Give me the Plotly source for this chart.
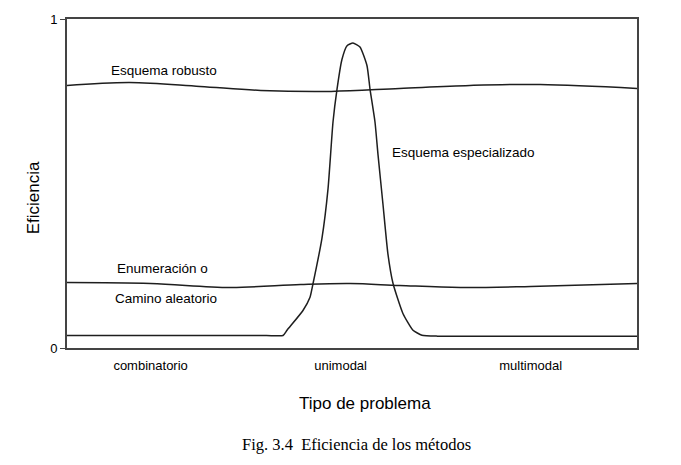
import plotly.graph_objects as go

# Data (x in category units: 0..3)
categories = ["combinatorio", "unimodal", "multimodal"]
cat_pos = [0.44, 1.44, 2.44]

robust_x = [0.0, 0.33, 0.70, 1.02, 1.39, 1.75, 2.12, 2.49, 3.0]
robust_y = [0.798, 0.807, 0.795, 0.783, 0.780, 0.789, 0.798, 0.801, 0.789]

enum_x = [0.0, 0.44, 0.86, 1.23, 1.49, 1.75, 2.07, 2.44, 3.0]
enum_y = [0.199, 0.196, 0.184, 0.193, 0.196, 0.190, 0.184, 0.187, 0.196]

spec_x = [0.0, 0.6, 1.05, 1.137, 1.158, 1.242, 1.279, 1.295, 1.342, 1.374, 1.40, 1.421, 1.447,
          1.474, 1.505, 1.542, 1.579, 1.595, 1.621, 1.637, 1.663, 1.689, 1.716,
          1.768, 1.821, 1.868, 1.95, 2.5, 3.0]
spec_y = [0.038, 0.038, 0.038, 0.038, 0.054, 0.114, 0.154, 0.196, 0.334, 0.485, 0.687, 0.786, 0.877,
          0.919, 0.927, 0.915, 0.858, 0.786, 0.687, 0.587, 0.437, 0.286, 0.196,
          0.105, 0.054, 0.039, 0.036, 0.036, 0.036]

line_style = dict(color="#1e1e1e", width=1.5)

fig = go.Figure()
fig.add_trace(go.Scatter(x=robust_x, y=robust_y, mode="lines",
                         line=dict(shape="spline", smoothing=1.0, **line_style)))
fig.add_trace(go.Scatter(x=enum_x, y=enum_y, mode="lines",
                         line=dict(shape="spline", smoothing=1.0, **line_style)))
fig.add_trace(go.Scatter(x=spec_x, y=spec_y, mode="lines",
                         line=dict(shape="spline", smoothing=0.5, **line_style)))

SANS = "Liberation Sans, Arial, sans-serif"
label_font = dict(family=SANS, size=13.5, color="#000")

def px_to_x(px):
    return (px - 67) / 190

def py_to_y(py):
    return (348 - py) / 332

annos = [
    (164, 68, "Esquema robusto"),
    (463, 151, "Esquema especializado"),
    (162, 268, "Enumeración o"),
    (166, 298, "Camino aleatorio"),
]
for ax_, ay_, txt in annos:
    fig.add_annotation(x=px_to_x(ax_), y=py_to_y(ay_), text=txt, showarrow=False,
                       xref="x", yref="y", xanchor="center", yanchor="middle",
                       font=label_font)

fig.add_annotation(x=(365 - 67) / 570, y=py_to_y(404), xref="paper", yref="paper",
                   text="Tipo de problema", showarrow=False,
                   xanchor="center", yanchor="middle",
                   font=dict(family=SANS, size=17, color="#000"))
fig.add_annotation(x=(33 - 67) / 570, y=py_to_y(197), xref="paper", yref="paper",
                   text="Eficiencia", showarrow=False, textangle=-90,
                   xanchor="center", yanchor="middle",
                   font=dict(family=SANS, size=17, color="#000"))
fig.add_annotation(x=(356 - 67) / 570, y=py_to_y(445), xref="paper", yref="paper",
                   text="Fig. 3.4  Eficiencia de los métodos", showarrow=False,
                   xanchor="center", yanchor="middle",
                   font=dict(family="Liberation Serif, Times New Roman, serif", size=16.5, color="#000"))

fig.update_layout(
    width=681, height=465,
    margin=dict(l=67, r=44, t=16, b=117),
    paper_bgcolor="white", plot_bgcolor="white",
    showlegend=False,
    xaxis=dict(range=[0, 3], tickvals=cat_pos, ticktext=categories, ticks="",
               ticklabelstandoff=5,
               showgrid=False, zeroline=False, showline=True, mirror=True,
               linecolor="#444", linewidth=1.6, fixedrange=True,
               tickfont=dict(family=SANS, size=13, color="#000")),
    yaxis=dict(range=[0, 1], tickvals=[0, 1], ticktext=["0", "1"], ticks="outside",
               ticklen=5, tickcolor="#444", tickwidth=1.4,
               showgrid=False, zeroline=False, showline=True, mirror=True,
               linecolor="#444", linewidth=1.6, fixedrange=True,
               tickfont=dict(family=SANS, size=13, color="#000")),
)

fig.write_html("out.html")
